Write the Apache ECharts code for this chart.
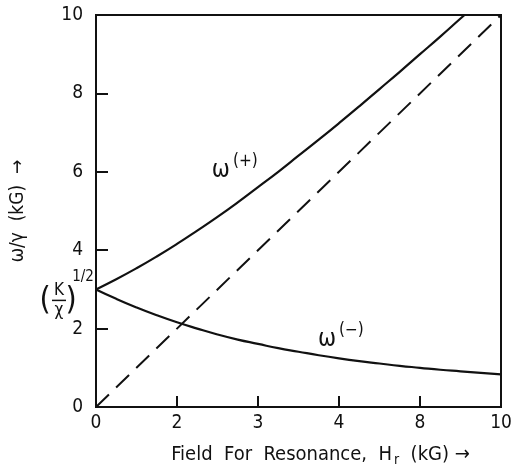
<!DOCTYPE html>
<html>
<head>
<meta charset="utf-8">
<script src="https://cdn.jsdelivr.net/npm/echarts@6/dist/echarts.min.js"></script>
<style>
html, body { margin: 0; padding: 0; background: #fff; }
#main { width: 515px; height: 474px; }
</style>
</head>
<body>
<div id="main"></div>
<script>
// resonance field (kG)
var fieldPlus = [0, 0.5, 1, 1.5, 2, 2.5, 3, 3.5, 4, 4.5, 5, 5.5, 6, 6.5, 7, 7.5, 8, 8.5, 9, 9.1];
var omegaPlus = [3.00, 3.26, 3.54, 3.84, 4.16, 4.50, 4.85, 5.22, 5.61, 6.00, 6.41, 6.82, 7.24, 7.67, 8.11, 8.55, 9.00, 9.45, 9.91, 10.0];
var fieldMinus = [0, 0.5, 1, 1.5, 2, 2.5, 3, 3.5, 4, 4.5, 5, 5.5, 6, 6.5, 7, 7.5, 8, 8.5, 9, 9.5, 10];
var omegaMinus = [3.00, 2.76, 2.54, 2.34, 2.16, 2.00, 1.85, 1.72, 1.61, 1.50, 1.41, 1.32, 1.24, 1.17, 1.11, 1.05, 1.00, 0.95, 0.91, 0.87, 0.83];
var diagX = [0, 10];
var diagY = [0, 10];
var kChiRoot = 3;
// tick labels as printed on the figure
var xTickLabels = ['0', '2', '3', '4', '8', '10'];
var yTickLabels = ['0', '2', '4', '6', '8', '10'];

function pairs(xs, ys) {
    var out = [];
    for (var i = 0; i < xs.length; i++) {
        out.push([xs[i], ys[i]]);
    }
    return out;
}

var font = '"DejaVu Sans Condensed", "Liberation Sans Narrow", "DejaVu Sans", sans-serif';
var lineStyle = {color: '#111', width: 2.2};

var myChart = echarts.init(document.getElementById('main'));
myChart.setOption({
    backgroundColor: '#fff',
    animation: false,
    grid: {left: 96, right: 14, top: 15, bottom: 67, show: true, borderColor: '#111', borderWidth: 2},
    xAxis: {
        type: 'value', min: 0, max: 10, interval: 2,
        axisLine: {show: true, onZero: false, lineStyle: {color: '#111', width: 2}},
        axisTick: {show: true, inside: true, length: 11, lineStyle: {color: '#111', width: 2}},
        splitLine: {show: false},
        axisLabel: {
            color: '#111', fontFamily: font, fontSize: 19, margin: 7,
            formatter: function (v) { return xTickLabels[Math.round(v / 2)]; }
        },
        name: '{t|Field  For  Resonance,  H}{sub|r}{t|  (kG) →}',
        nameLocation: 'middle',
        nameGap: 35,
        nameTextStyle: {
            padding: [0, 0, 0, 44],
            rich: {
                t: {fontFamily: font, fontSize: 20, color: '#111', lineHeight: 26},
                sub: {fontFamily: font, fontSize: 14, color: '#111', padding: [11, 0, 0, 2], lineHeight: 26}
            }
        }
    },
    yAxis: {
        type: 'value', min: 0, max: 10, interval: 2,
        axisLine: {show: true, onZero: false, lineStyle: {color: '#111', width: 2}},
        axisTick: {show: true, inside: true, length: 12, lineStyle: {color: '#111', width: 2}},
        splitLine: {show: false},
        axisLabel: {
            color: '#111', fontFamily: font, fontSize: 19, margin: 13,
            formatter: function (v) { return yTickLabels[Math.round(v / 2)]; }
        },
        name: 'ω/γ  (kG)  →',
        nameLocation: 'middle',
        nameGap: 68,
        nameTextStyle: {fontFamily: font, fontSize: 19, color: '#111'}
    },
    series: [
        {
            name: 'omega+', type: 'line', smooth: true, symbol: 'none',
            data: pairs(fieldPlus, omegaPlus), lineStyle: lineStyle
        },
        {
            name: 'omega-', type: 'line', smooth: true, symbol: 'none',
            data: pairs(fieldMinus, omegaMinus), lineStyle: lineStyle
        },
        {
            name: 'H', type: 'line', symbol: 'none',
            data: pairs(diagX, diagY),
            lineStyle: {color: '#111', width: 2, type: [18, 10]}
        }
    ]
});

// annotations placed from data coordinates
var a = myChart.convertToPixel({gridIndex: 0}, [0, kChiRoot]);
var pPlus = myChart.convertToPixel({gridIndex: 0}, [2.86, 6.1]);
var pMinus = myChart.convertToPixel({gridIndex: 0}, [5.48, 1.79]);
var omegaRich = {
    w: {fontFamily: font, fontSize: 24, verticalAlign: 'bottom', lineHeight: 30},
    s: {fontFamily: font, fontSize: 17, verticalAlign: 'top', lineHeight: 30, padding: [0, 0, 0, 3]}
};

function txt(s) {
    s.fontFamily = font;
    s.fill = '#111';
    s.align = 'center';
    s.verticalAlign = 'middle';
    return s;
}

myChart.setOption({
    graphic: [
        {type: 'text', x: a[0] - 51, y: a[1] + 11, style: txt({text: '(', fontSize: 32})},
        {type: 'text', x: a[0] - 25, y: a[1] + 11, style: txt({text: ')', fontSize: 32})},
        {type: 'text', x: a[0] - 37, y: a[1] + 1, style: txt({text: 'K', fontSize: 17})},
        {type: 'line', shape: {x1: a[0] - 44, y1: a[1] + 11, x2: a[0] - 30, y2: a[1] + 11}, style: {stroke: '#111', lineWidth: 1.5}},
        {type: 'text', x: a[0] - 37, y: a[1] + 21, style: txt({text: 'χ', fontSize: 17})},
        {type: 'text', x: a[0] - 13, y: a[1] - 12, style: txt({text: '1/2', fontSize: 15})},
        {type: 'text', x: pPlus[0], y: pPlus[1], style: {text: '{w|ω}{s|(+)}', rich: omegaRich, fill: '#111', verticalAlign: 'middle'}},
        {type: 'text', x: pMinus[0], y: pMinus[1], style: {text: '{w|ω}{s|(−)}', rich: omegaRich, fill: '#111', verticalAlign: 'middle'}}
    ]
});
</script>
</body>
</html>
